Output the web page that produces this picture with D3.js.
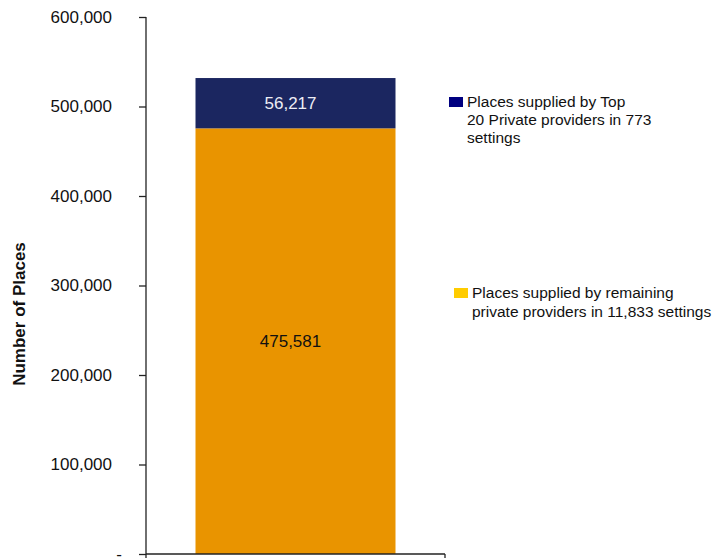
<!DOCTYPE html>
<html>
<head>
<meta charset="utf-8">
<script src="https://cdn.jsdelivr.net/npm/d3@7"></script>
<style>
  html, body { margin: 0; padding: 0; background: #fff; }
  svg { display: block; font-family: "Liberation Sans", Arial, sans-serif; }
</style>
</head>
<body>
<svg id="chart" width="714" height="558"></svg>
<script>
// Stacked places by provider group
const categories = ["Private providers"];
const seriesNames = ["remaining", "top20"];
const remainingValues = [475581];
const top20Values = [56217];
const yTickValues = [0, 100000, 200000, 300000, 400000, 500000, 600000];
const yTickLabels = ["-", "100,000", "200,000", "300,000", "400,000", "500,000", "600,000"];
const legendTop20 = ["Places supplied by Top", "20 Private providers in 773", "settings"];
const legendRemaining = ["Places supplied by remaining", "private providers in 11,833 settings"];
const yTitle = "Number of Places";

const svg = d3.select("#chart");

const plot = { left: 146, right: 445, top: 17, bottom: 554 };

const y = d3.scaleLinear().domain([0, 600000]).range([plot.bottom, plot.top]);
const x = d3.scaleBand().domain(categories)
  .range([plot.left, plot.right])
  .paddingInner(0).paddingOuter(0.2475);

const rows = categories.map((c, i) => ({ cat: c, remaining: remainingValues[i], top20: top20Values[i] }));
const stacked = d3.stack().keys(seriesNames)(rows);

const barFill = { remaining: "#E99400", top20: "#1B2660" };
const labelFill = { remaining: "#111111", top20: "#EDEDF5" };
const fmt = d3.format(",");

// bars
const layers = svg.append("g").selectAll("g").data(stacked).join("g")
  .attr("fill", d => barFill[d.key]);

layers.selectAll("rect").data(d => d.map(p => ({ p, key: d.key }))).join("rect")
  .attr("x", d => x(d.p.data.cat))
  .attr("width", x.bandwidth())
  .attr("y", d => y(d.p[1]))
  .attr("height", d => y(d.p[0]) - y(d.p[1]));

// value labels
layers.selectAll("text").data(d => d.map(p => ({ p, key: d.key }))).join("text")
  .attr("x", d => x(d.p.data.cat) + x.bandwidth() / 2 - 5)
  .attr("y", d => (y(d.p[0]) + y(d.p[1])) / 2)
  .attr("dy", "0.35em")
  .attr("text-anchor", "middle")
  .attr("font-size", 17)
  .attr("fill", d => labelFill[d.key])
  .text(d => fmt(d.p.data[d.key]));

// y axis
const yAxis = d3.axisLeft(y)
  .tickValues(yTickValues)
  .tickSize(7)
  .tickPadding(27)
  .tickFormat((d, i) => yTickLabels[i]);

const gy = svg.append("g")
  .attr("transform", `translate(${plot.left},0)`)
  .call(yAxis);
gy.select(".domain").remove();
gy.selectAll(".tick line").attr("stroke", "#222").attr("stroke-width", 1.3);
gy.selectAll(".tick text")
  .attr("font-size", 17)
  .attr("font-family", "Liberation Sans, Arial, sans-serif")
  .attr("fill", "#111")
  .attr("dx", (d, i) => yTickLabels[i] === "-" ? 10 : 0);

// axis lines
svg.append("line")
  .attr("x1", plot.left).attr("x2", plot.left)
  .attr("y1", y(600000)).attr("y2", plot.bottom + 4)
  .attr("stroke", "#222").attr("stroke-width", 1.3);
svg.append("line")
  .attr("x1", plot.left).attr("x2", plot.right)
  .attr("y1", plot.bottom).attr("y2", plot.bottom)
  .attr("stroke", "#222").attr("stroke-width", 1.3);
svg.append("line")
  .attr("x1", plot.right).attr("x2", plot.right)
  .attr("y1", plot.bottom).attr("y2", plot.bottom + 5)
  .attr("stroke", "#222").attr("stroke-width", 1.3);

// y title
svg.append("text")
  .attr("transform", `translate(25,${(243 + 385) / 2}) rotate(-90)`)
  .attr("text-anchor", "middle")
  .attr("font-size", 17)
  .attr("font-weight", "bold")
  .attr("fill", "#111")
  .text(yTitle);

// legend
function legend(item, sx, sy, color, tx, baseline, lh) {
  const g = svg.append("g");
  g.append("rect").attr("x", sx).attr("y", sy).attr("width", 14).attr("height", 10).attr("fill", color);
  g.append("text")
    .attr("font-size", 15.5)
    .attr("fill", "#111")
    .selectAll("tspan").data(item).join("tspan")
    .attr("x", tx)
    .attr("y", (d, i) => baseline + i * lh)
    .text(d => d);
}
legend(legendTop20, 449, 97, "#000080", 467, 107, 17.8);
legend(legendRemaining, 454, 288, "#FFCC00", 472, 298, 18.5);
</script>
</body>
</html>
